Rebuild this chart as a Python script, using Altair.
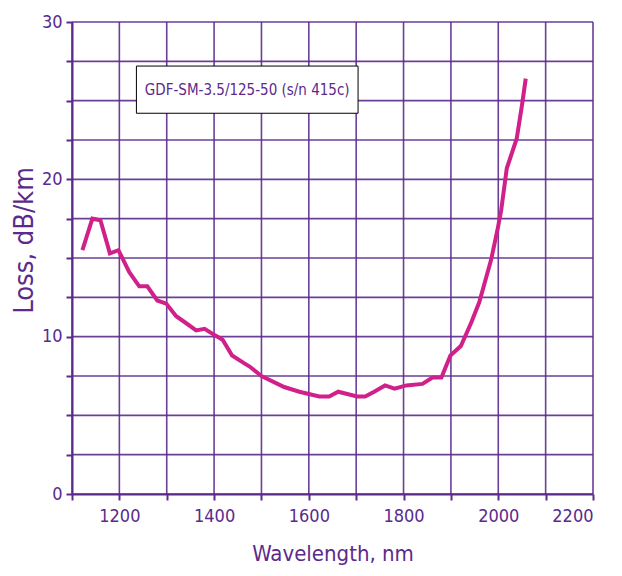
import altair as alt
import pandas as pd

wavelength = [1122, 1143, 1160, 1180, 1198, 1221, 1242, 1259, 1280, 1299, 1320, 1339,
              1362, 1380, 1401, 1418, 1438, 1464, 1475, 1500, 1548, 1580, 1622, 1643,
              1662, 1702, 1719, 1738, 1761, 1781, 1806, 1840, 1861, 1880, 1899, 1921,
              1943, 1960, 1985, 1999, 2006, 2018, 2039, 2050, 2058]
loss = [15.5, 17.5, 17.4, 15.3, 15.5, 14.1, 13.2, 13.2, 12.3, 12.1, 11.3, 10.9,
        10.4, 10.5, 10.1, 9.8, 8.8, 8.3, 8.1, 7.5, 6.8, 6.5, 6.2, 6.2,
        6.5, 6.2, 6.2, 6.5, 6.9, 6.7, 6.9, 7.0, 7.4, 7.4, 8.8, 9.4,
        10.9, 12.2, 14.9, 16.9, 18.0, 20.7, 22.6, 24.7, 26.4]

x_ticks = list(range(1100, 2201, 100))
y_ticks = [0, 2.5, 5, 7.5, 10, 12.5, 15, 17.5, 20, 22.5, 25, 27.5, 30]

label_text = ["GDF-SM-3.5/125-50 (s/n 415c)"]
label_box = {"x": [1236], "x2": [1704], "y": [27.2], "y2": [24.2], "tx": [1470], "ty": [25.7]}

PURPLE = "#5B2A8C"
MAGENTA = "#D0208A"
FONT = "DejaVu Sans Condensed, Liberation Sans Narrow, Liberation Sans, sans-serif"

df = pd.DataFrame({"wavelength": wavelength, "loss": loss})
box = pd.DataFrame(dict(label_box, text=label_text))
hgrid = pd.DataFrame({"y": y_ticks})
vgrid = pd.DataFrame({"x": x_ticks})

xs = alt.Scale(domain=[1100, 2200], nice=False)
ys = alt.Scale(domain=[0, 30], nice=False)

x_axis = alt.Axis(values=x_ticks, labelExpr="datum.value % 200 == 0 ? datum.value : ''",
                  title="Wavelength, nm", grid=False, titleFontSize=22, titlePadding=18)
y_axis = alt.Axis(values=y_ticks, labelExpr="datum.value % 10 == 0 ? datum.value : ''",
                  title="Loss, dB/km", grid=False, titleFontSize=27, titlePadding=3,
                  titleY=218)

hlines = alt.Chart(hgrid).mark_rule(color=PURPLE, strokeWidth=1.6, opacity=0.9).encode(
    y=alt.Y("y:Q", scale=ys, axis=y_axis)
)
vlines = alt.Chart(vgrid).mark_rule(color=PURPLE, strokeWidth=1.6, opacity=0.9).encode(
    x=alt.X("x:Q", scale=xs, axis=x_axis)
)

line = alt.Chart(df).mark_line(color=MAGENTA, strokeWidth=4).encode(
    x=alt.X("wavelength:Q", scale=xs, axis=x_axis),
    y=alt.Y("loss:Q", scale=ys, axis=y_axis),
)

rect = alt.Chart(box).mark_rect(fill="white", stroke="black", strokeWidth=1).encode(
    x=alt.X("x:Q", scale=xs, axis=x_axis), x2="x2:Q",
    y=alt.Y("y:Q", scale=ys, axis=y_axis), y2="y2:Q",
)
text = alt.Chart(box).mark_text(color=PURPLE, font=FONT, fontSize=15, align="center",
                                baseline="middle").encode(
    x=alt.X("tx:Q", scale=xs, axis=x_axis), y=alt.Y("ty:Q", scale=ys, axis=y_axis),
    text="text:N"
)

chart = alt.layer(hlines, vlines, line, rect, text).properties(
    width=521, height=472,
    autosize=alt.AutoSizeParams(type="none"),
    padding={"left": 64, "top": 14, "right": 10, "bottom": 80},
).configure_view(strokeWidth=0).configure_axis(
    domainColor=PURPLE, domainWidth=2,
    tickColor=PURPLE, tickWidth=2, tickSize=6,
    labelColor=PURPLE, labelFont=FONT, labelFontSize=18,
    titleColor=PURPLE, titleFont=FONT, titleFontWeight="normal",
).configure_axisX(labelPadding=7).configure_axisY(labelPadding=4)

chart.save("out.html", embed_options={"renderer": "svg", "actions": False})
